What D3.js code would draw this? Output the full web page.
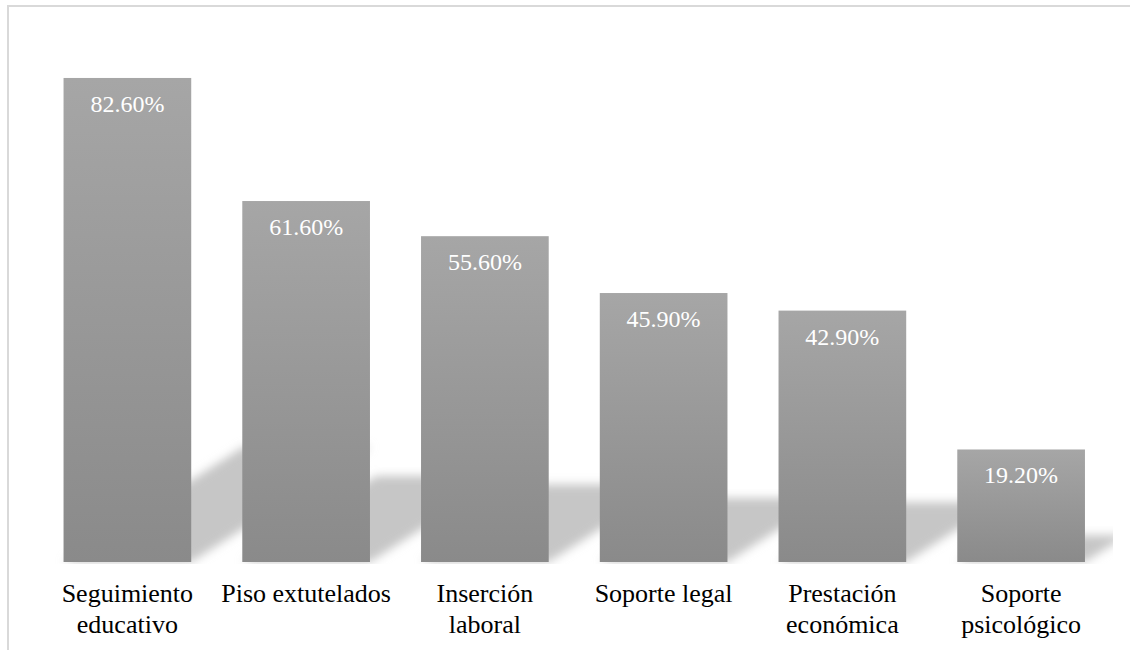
<!DOCTYPE html>
<html>
<head>
<meta charset="utf-8">
<script src="https://cdn.jsdelivr.net/npm/d3@7"></script>
<style>
  html, body { margin: 0; padding: 0; background: #ffffff; overflow: hidden; }
  svg { display: block; }
</style>
</head>
<body>
<svg id="chart" width="1130" height="650"></svg>
<script>
// Categories (each label split into display lines) and their percentages
const categories = [
  "Seguimiento educativo",
  "Piso extutelados",
  "Inserción laboral",
  "Soporte legal",
  "Prestación económica",
  "Soporte psicológico"
];
const labelLines = [
  ["Seguimiento", "educativo"],
  ["Piso extutelados"],
  ["Inserción", "laboral"],
  ["Soporte legal"],
  ["Prestación", "económica"],
  ["Soporte", "psicológico"]
];
const values = [82.6, 61.6, 55.6, 45.9, 42.9, 19.2];
const valueLabels = ["82.60%", "61.60%", "55.60%", "45.90%", "42.90%", "19.20%"];

const svg = d3.select("#chart");
const W = 1130, H = 650;
const plot = { left: 38, right: 1110.5, top: 34.6, bottom: 562 };
const serif = "Liberation Serif, Times New Roman, serif";

// Outer chart frame (runs past the right and bottom edges of the view)
svg.append("rect")
  .attr("x", 8).attr("y", 6)
  .attr("width", W).attr("height", H)
  .attr("fill", "#ffffff")
  .attr("stroke", "#d9d9d9")
  .attr("stroke-width", 2);

const x = d3.scaleBand()
  .domain(categories)
  .range([plot.left, plot.right])
  .paddingInner(0.2857)
  .paddingOuter(0.1429);

const y = d3.scaleLinear()
  .domain([0, 90])
  .range([plot.bottom, plot.top]);

const defs = svg.append("defs");

// Light-to-dark vertical fill for each bar
const grad = defs.append("linearGradient")
  .attr("id", "barFill")
  .attr("x1", 0).attr("y1", 0).attr("x2", 0).attr("y2", 1);
grad.append("stop").attr("offset", "0%").attr("stop-color", "#a6a6a6");
grad.append("stop").attr("offset", "100%").attr("stop-color", "#8a8a8a");

// Soft edge for the cast shadows
defs.append("filter")
  .attr("id", "shadowBlur")
  .attr("x", "-20%").attr("y", "-30%")
  .attr("width", "140%").attr("height", "160%")
  .append("feGaussianBlur")
  .attr("stdDeviation", 5);

defs.append("clipPath")
  .attr("id", "plotClip")
  .append("rect")
  .attr("x", plot.left).attr("y", 0)
  .attr("width", 1113 - plot.left).attr("height", plot.bottom + 2);

// Perspective shadows: each bar laid back onto the floor, leaning up and to the right
const squash = 0.238;   // shadow height relative to the bar
const lean = 0.64;      // rise per pixel of horizontal run
const shadowLayer = svg.append("g")
  .attr("clip-path", "url(#plotClip)")
  .append("g")
  .attr("filter", "url(#shadowBlur)");

shadowLayer.selectAll("path")
  .data(categories)
  .join("path")
  .attr("fill", "#c6c6c6")
  .attr("d", (c, i) => {
    const x0 = x(c), w = x.bandwidth();
    const base = y(0);
    const h = (base - y(values[i])) * squash;
    const shift = h / lean;
    return `M${x0},${base} L${x0 + w},${base} L${x0 + w + shift},${base - h} L${x0 + shift},${base - h} Z`;
  });

// Bars
svg.append("g")
  .selectAll("rect")
  .data(categories)
  .join("rect")
  .attr("x", c => x(c))
  .attr("y", (c, i) => y(values[i]))
  .attr("width", x.bandwidth())
  .attr("height", (c, i) => y(0) - y(values[i]))
  .attr("fill", "url(#barFill)");

// Value labels inside the top of each bar
svg.append("g")
  .selectAll("text")
  .data(categories)
  .join("text")
  .attr("x", c => x(c) + x.bandwidth() / 2)
  .attr("y", (c, i) => y(values[i]) + 34)
  .attr("text-anchor", "middle")
  .style("font-family", serif)
  .style("font-size", "24px")
  .attr("fill", "#ffffff")
  .text((c, i) => valueLabels[i]);

// Category labels under the bars
const catG = svg.append("g");
categories.forEach((c, i) => {
  const t = catG.append("text")
    .attr("x", x(c) + x.bandwidth() / 2)
    .attr("y", 602)
    .attr("text-anchor", "middle")
    .style("font-family", serif)
    .style("font-size", "26px")
    .attr("fill", "#000000");
  labelLines[i].forEach((line, j) => {
    t.append("tspan")
      .attr("x", x(c) + x.bandwidth() / 2)
      .attr("dy", j === 0 ? 0 : 31)
      .text(line);
  });
});
</script>
</body>
</html>
